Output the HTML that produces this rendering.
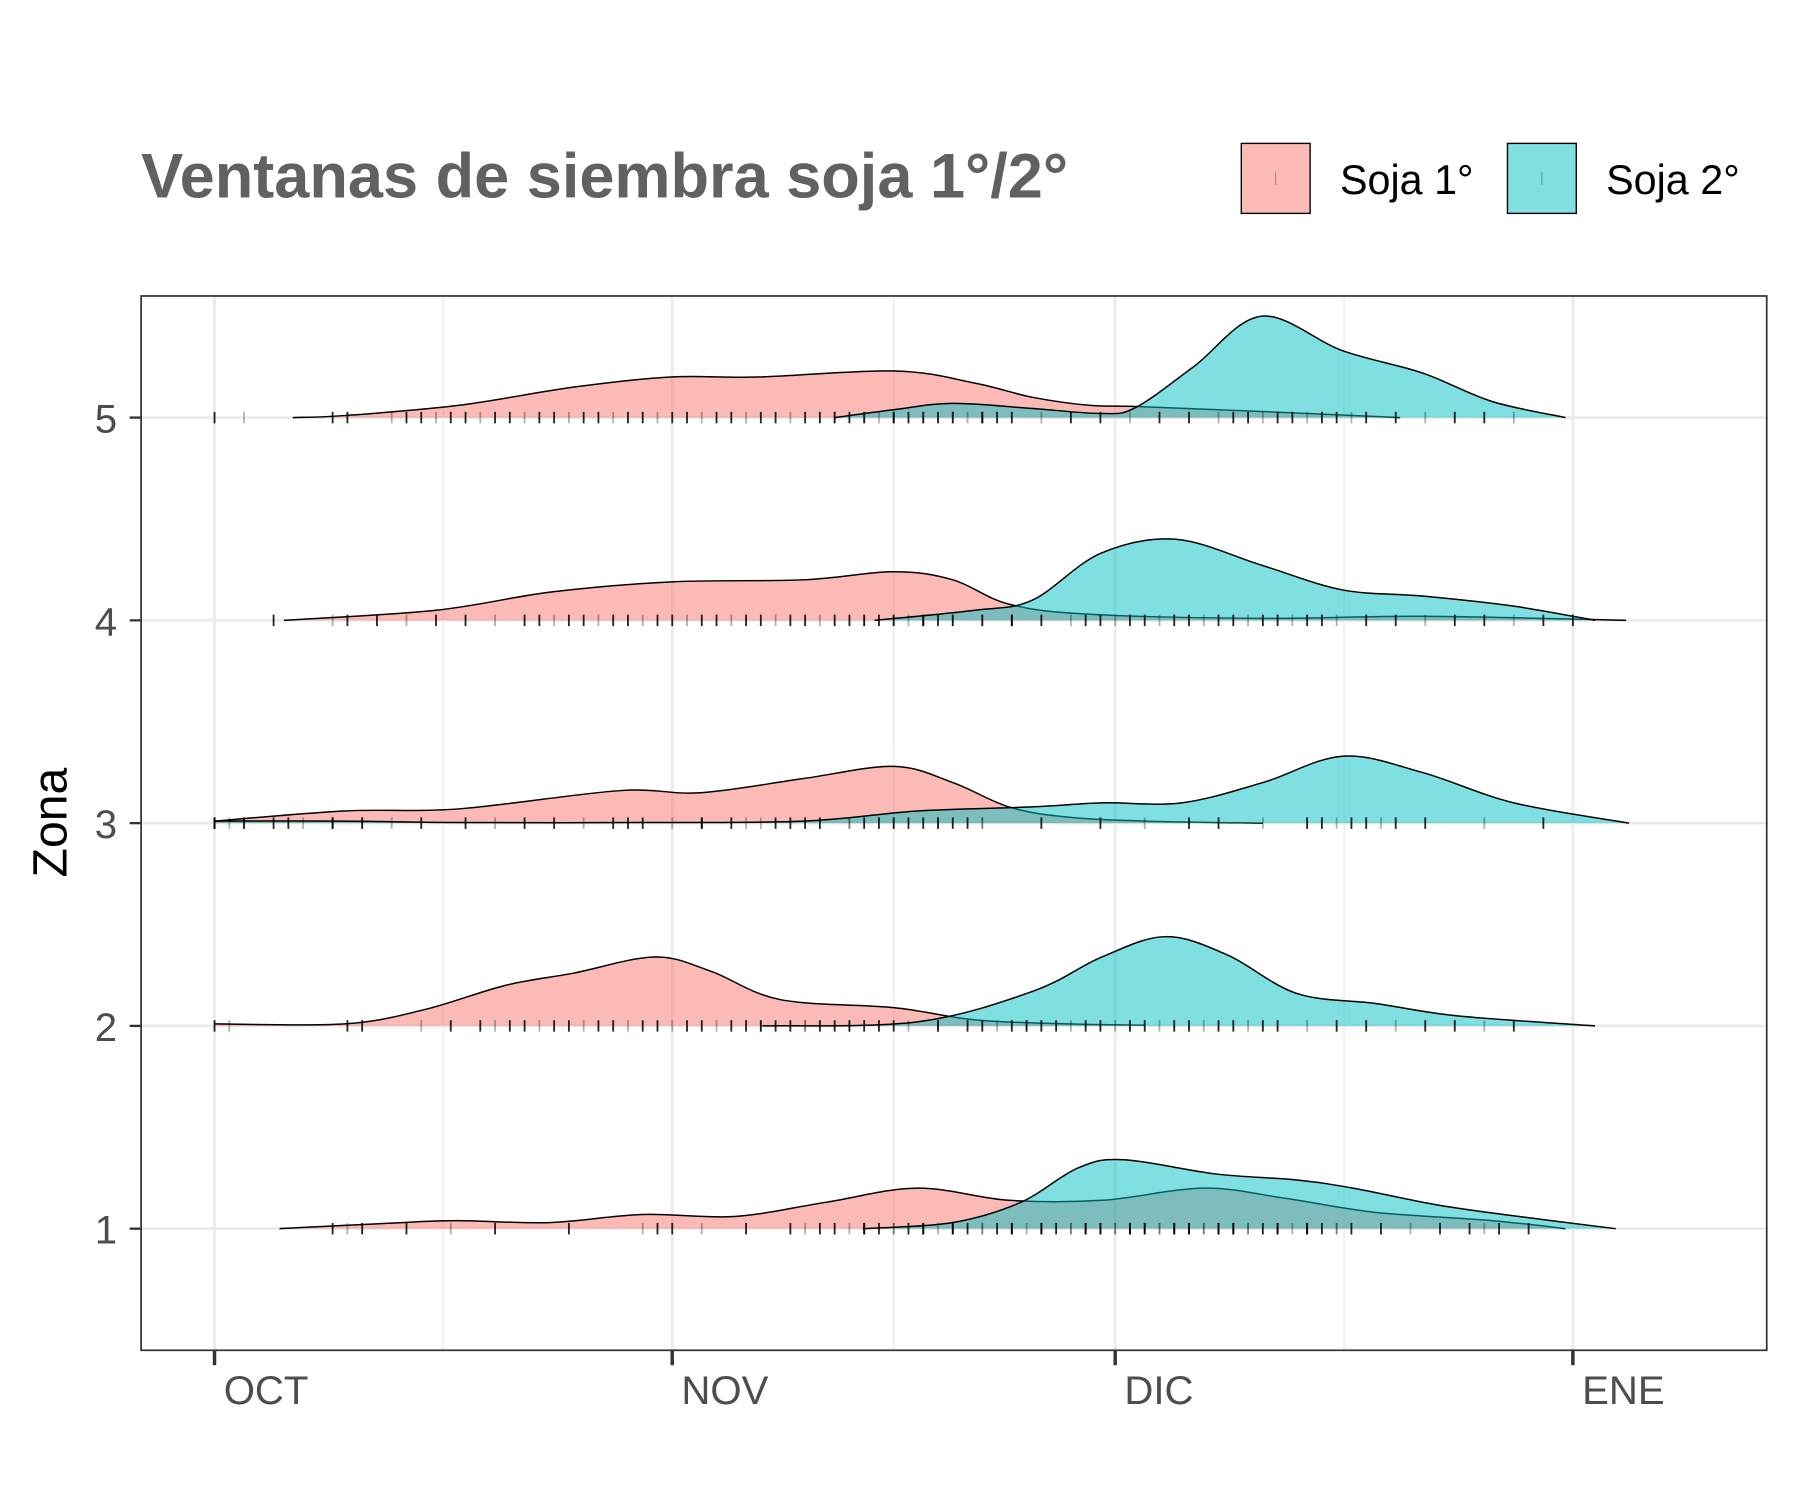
<!DOCTYPE html>
<html><head><meta charset="utf-8"><style>
html,body{margin:0;padding:0;background:#fff}
svg{display:block;font-family:"Liberation Sans",sans-serif}
</style></head><body>
<svg id="chart" width="1800" height="1500" viewBox="0 0 1569 1307.5">
<rect x="0" y="0" width="1569" height="1308" fill="#fff"/>
<text x="123" y="172" font-size="55" font-weight="bold" fill="#616161">Ventanas de siembra soja 1°/2°</text>
<g>
<g>
<rect x="1082" y="125" width="60" height="61" fill="#F8766D" fill-opacity="0.5" stroke="#000" stroke-width="1.2"/>
<line x1="1112" y1="150" x2="1112" y2="161" stroke="#000" stroke-opacity="0.3"/>
<text x="1168" y="169" font-size="36" fill="#000">Soja 1°</text></g>
<g>
<rect x="1314" y="125" width="60" height="61" fill="#00BFC4" fill-opacity="0.5" stroke="#000" stroke-width="1.2"/>
<line x1="1344" y1="150" x2="1344" y2="161" stroke="#000" stroke-opacity="0.3"/>
<text x="1400" y="169" font-size="36" fill="#000">Soja 2°</text></g>
</g>
<g id="grid"></g>
<g id="ridges"></g>
<rect x="123" y="258" width="1417" height="919" fill="none" stroke="#333" stroke-width="1.5"/>
<g id="axes"></g>
<text transform="translate(58,717) rotate(-90)" text-anchor="middle" font-size="42" fill="#000">Zona</text>
</svg>
<script>
// ---- data ----
const zones = [1, 2, 3, 4, 5];
const monthLabels = ["OCT", "NOV", "DIC", "ENE"];
const monthDays = [0, 31, 61, 92];
const minorDays = [15.5, 46, 76.5];
// density curves: [day, height (zone units)]
const soja1_z1 = [[4.4,0],[12.7,0.03],[16.5,0.04],[22.7,0.03],[29,0.07],[35.2,0.06],[41.4,0.13],[47.6,0.2],[53.8,0.14],[60.1,0.14],[67,0.2],[72.5,0.15],[78.7,0.08],[86.5,0.04],[91.5,0]];
const soja2_z1 = [[43.9,0],[49.967,0.03],[54.6,0.13],[58.5,0.3],[61.6,0.34],[67.8,0.27],[73.3,0.24],[77.1,0.2],[82.6,0.12],[87.3,0.07],[94.9,0]];
const soja1_z2 = [[0,0.01],[8.8,0.01],[14.2,0.08],[19.7,0.2],[24.3,0.26],[29.8,0.34],[33.6,0.27],[38.3,0.13],[46,0.09],[51.5,0.03],[57.7,0.01],[63,0.004]];
const soja2_z2 = [[37.1,0],[47.6,0.02],[55.4,0.17],[60.1,0.34],[64.4,0.44],[68.6,0.35],[73.3,0.16],[78.7,0.11],[84.1,0.05],[93.5,0]];
const soja1_z3 = [[0,0.01],[8.8,0.06],[16.5,0.07],[27.4,0.16],[32.9,0.15],[39.9,0.22],[46,0.28],[50,0.2],[53.8,0.08],[57.7,0.03],[63,0.01],[71,0]];
const soja2_z3 = [[0,0.01],[8.8,0.01],[16.2,0.003],[28.6,0.003],[39.9,0.01],[47.6,0.06],[55.4,0.08],[60.1,0.1],[65.5,0.1],[71,0.2],[76.4,0.33],[81.8,0.25],[88,0.1],[95.8,0]];
const soja1_z4 = [[4.7,0],[15,0.05],[22.8,0.14],[31,0.19],[39.9,0.2],[46,0.24],[50,0.2],[53.8,0.08],[59.3,0.03],[71,0.01],[81.8,0.02],[95.6,0]];
const soja2_z4 = [[44.7,0],[51.5,0.05],[55.4,0.1],[60,0.33],[65.1,0.4],[71,0.27],[76.4,0.15],[81.8,0.12],[88,0.07],[93.5,0]];
const soja1_z5 = [[5.3,0],[8.8,0.01],[16.5,0.06],[24.3,0.15],[30.9,0.2],[36.8,0.2],[46.1,0.23],[51.5,0.17],[55.4,0.1],[59.3,0.06],[62.4,0.055],[70.9,0.03],[80.3,0]];
const soja2_z5 = [[42,0],[46.1,0.04],[50,0.07],[55.4,0.045],[60.1,0.02],[62.4,0.05],[66.3,0.25],[70.9,0.5],[76.4,0.33],[81.8,0.22],[86.5,0.08],[91.5,0]];
// rug (individual sowing dates)
const rug1_z1 = [8,9,10,13,16,19,24,29,30,31,33,36,39,40,41,42,43,44,45,46,47,48,49,50,51,52,53,54,55,56,57,58,59,60,61,62,63,64,65,66,67,68,69,70,72,74,76];
const rug2_z1 = [44,46,48,50,52,54,56,58,59,60,61,62,63,64,65,66,67,68,69,70,71,72,73,74,75,76,77,79,81,83,85,86,87,89];
const rug1_z2 = [0,1,9,10,14,16,18,19,20,21,22,23,24,25,26,27,28,29,30,31,32,33,34,35,36,37,38,39,40,41,42,43,44,45,47,49,51,53,55];
const rug2_z2 = [37,40,43,46,49,52,54,55,56,57,58,59,60,61,62,63,64,65,66,67,68,69,70,71,72,74,76,78,80,82,84,86,88];
const rug1_z3 = [0,1,2,4,6,8,10,12,14,17,19,21,23,25,27,29,31,33,35,37,39,41,43,44,45,46,47,48,49,50,51,52];
const rug2_z3 = [0,2,5,8,10,28,33,36,38,40,43,46,49,52,56,60,63,66,68,71,74,75,76,77,78,79,80,82,86,90];
const rug1_z4 = [4,8,9,11,13,15,17,19,21,22,23,24,25,26,27,28,29,30,31,32,33,34,35,36,37,38,39,40,41,42,43,44,45,46,47,48,49,50,52,54];
const rug2_z4 = [44,46,48,50,52,54,56,58,59,60,61,62,63,64,65,66,67,68,69,70,71,72,73,74,75,76,78,80,82,84,86,88,90,92];
const rug1_z5 = [0,2,8,9,12,13,14,15,16,17,18,19,20,21,22,23,24,25,26,27,28,29,30,31,32,33,34,35,36,37,38,39,40,41,42,43,44,45,46,47,48,49,50,51,52,53];
const rug2_z5 = [42,44,46,48,50,52,54,56,58,60,62,64,66,68,69,70,71,72,73,74,75,76,77,78,80,82,84,86,88];

const series1 = [soja1_z1, soja1_z2, soja1_z3, soja1_z4, soja1_z5];
const series2 = [soja2_z1, soja2_z2, soja2_z3, soja2_z4, soja2_z5];
const rugs1 = [rug1_z1, rug1_z2, rug1_z3, rug1_z4, rug1_z5];
const rugs2 = [rug2_z1, rug2_z2, rug2_z3, rug2_z4, rug2_z5];

// ---- scales ----
const NS = "http://www.w3.org/2000/svg";
function xS(d){ return 187 + d * 12.87; }
function yS(v){ return 1071 - (v - 1) * 176.75; }
function mk(tag, attrs, parent){ const e = document.createElementNS(NS, tag); for (const k in attrs) e.setAttribute(k, attrs[k]); parent.appendChild(e); return e; }

const grid = document.getElementById('grid');
const axes = document.getElementById('axes');
const ridges = document.getElementById('ridges');

minorDays.forEach(d => {
  const l = mk('line', {x1:xS(d), x2:xS(d), y1:258, y2:1177, stroke:'#ebebeb', 'stroke-width':1.2}, grid);
  
  
});
monthDays.forEach(d => {
  const l = mk('line', {x1:xS(d), x2:xS(d), y1:258, y2:1177, stroke:'#ebebeb', 'stroke-width':2.4}, grid);
  
  
});
zones.forEach(z => {
  const l = mk('line', {x1:123, x2:1540, y1:yS(z), y2:yS(z), stroke:'#ebebeb', 'stroke-width':2.4}, grid);
  
  
});

function smoothPath(pts){
  let d = 'M' + pts[0][0] + ',' + pts[0][1];
  for (let i = 0; i < pts.length - 1; i++) {
    const p0 = pts[i-1] || pts[i], p1 = pts[i], p2 = pts[i+1], p3 = pts[i+2] || p2;
    const c1x = p1[0] + (p2[0]-p0[0])/6, c1y = p1[1] + (p2[1]-p0[1])/6;
    const c2x = p2[0] - (p3[0]-p1[0])/6, c2y = p2[1] - (p3[1]-p1[1])/6;
    d += ' C' + c1x + ',' + c1y + ' ' + c2x + ',' + c2y + ' ' + p2[0] + ',' + p2[1];
  }
  return d;
}

function drawRidge(z, data, color, name){
  const base = yS(z);
  const pts = data.map(p => [xS(p[0]), base - p[1] * 176.75]);
  const line = smoothPath(pts);
  const area = line + ' L' + pts[pts.length-1][0] + ',' + base + ' L' + pts[0][0] + ',' + base + ' Z';
  const a = mk('path', {d: area, fill: color, 'fill-opacity': 0.5, stroke: 'none'}, ridges);
  
  
  const l = mk('path', {d: line, fill: 'none', stroke: '#000', 'stroke-width': 1.3}, ridges);
  
  
}
function drawRug(z, days, name){
  const base = yS(z);
  days.forEach((d, i) => {
    const t = mk('line', {x1:xS(d), x2:xS(d), y1:base-5, y2:base+5, stroke:'#000', 'stroke-width':1.6, 'stroke-opacity': (i % 3 === 1 ? 0.3 : 0.85)}, ridges);
    
    
  });
}

for (let i = zones.length - 1; i >= 0; i--) {
  const z = zones[i];
  drawRidge(z, series1[i], '#F8766D', 'soja1-zone' + z);
  drawRidge(z, series2[i], '#00BFC4', 'soja2-zone' + z);
  drawRug(z, rugs1[i], 'soja1-rug-zone' + z);
  drawRug(z, rugs2[i], 'soja2-rug-zone' + z);
}

monthDays.forEach((d, i) => {
  const t = mk('line', {x1:xS(d), x2:xS(d), y1:1177, y2:1190, stroke:'#333', 'stroke-width':3}, axes);
  
  
  const tx = mk('text', {x:xS(d)+8, y:1224, 'font-size':35, fill:'#4d4d4d'}, axes);
  tx.textContent = monthLabels[i];
  
  
});
zones.forEach(z => {
  const t = mk('line', {x1:113, x2:123, y1:yS(z), y2:yS(z), stroke:'#333', 'stroke-width':2}, axes);
  
  
  const tx = mk('text', {x:102, y:yS(z)+13, 'font-size':35, fill:'#4d4d4d', 'text-anchor':'end'}, axes);
  tx.textContent = String(z);
  
  
});
</script>
</body></html>
